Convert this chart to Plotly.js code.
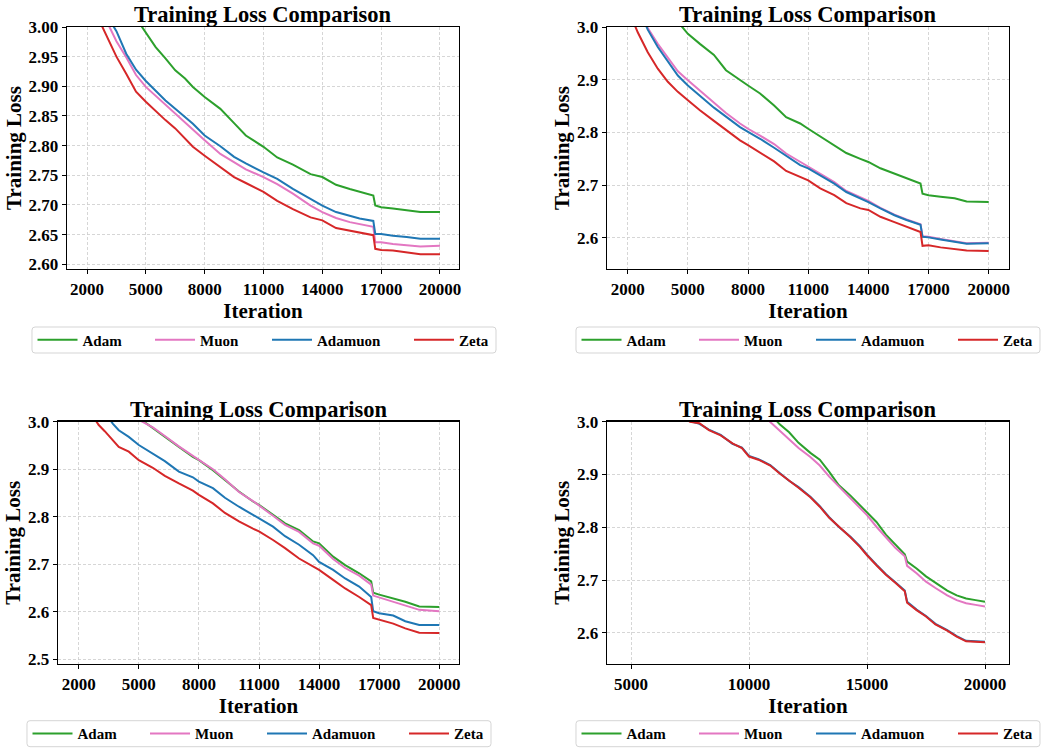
<!DOCTYPE html>
<html>
<head>
<meta charset="utf-8">
<script src="https://cdn.plot.ly/plotly-3.0.1.min.js"></script>
<style>
  html, body { margin: 0; padding: 0; background: #ffffff; }
  #chart { width: 1042px; height: 748px; }
</style>
</head>
<body>
<div id="chart"></div>
<script>
// ---------------- Data ----------------
const SERIES_NAMES = ["Adam", "Muon", "Adamuon", "Zeta"];
const SERIES_COLORS = ["#2ca02c", "#e377c2", "#1f77b4", "#d62728"];

// Panel 1 (top-left)
const P1_ITER = [2500, 3000, 3500, 4000, 4500, 5000, 5500, 6000, 6500, 7000, 7400, 8000, 8800, 9500, 10100, 11000, 11700, 12500, 13400, 14000, 14700, 15400, 15900, 16600, 16700, 17000, 17600, 18300, 19000, 20000];
const P1_ADAM    = [null, null, null, null, 3.015, 2.990, 2.966, 2.947, 2.927, 2.913, 2.899, 2.882, 2.862, 2.838, 2.817, 2.798, 2.780, 2.768, 2.752, 2.747, 2.734, 2.727, 2.722, 2.716, 2.699, 2.696, 2.694, 2.691, 2.688, 2.688];
const P1_MUON    = [null, 3.010, 2.976, 2.949, 2.919, 2.899, 2.884, 2.868, 2.853, 2.838, 2.826, 2.809, 2.786, 2.772, 2.760, 2.747, 2.735, 2.719, 2.699, 2.688, 2.678, 2.671, 2.668, 2.663, 2.637, 2.637, 2.634, 2.632, 2.630, 2.631];
const P1_ADAMUON = [null, 3.020, 2.993, 2.955, 2.928, 2.909, 2.892, 2.876, 2.862, 2.848, 2.837, 2.817, 2.799, 2.781, 2.770, 2.755, 2.744, 2.727, 2.710, 2.699, 2.688, 2.682, 2.677, 2.673, 2.651, 2.651, 2.648, 2.646, 2.643, 2.643];
const P1_ZETA    = [3.020, 2.985, 2.950, 2.921, 2.891, 2.874, 2.858, 2.843, 2.829, 2.812, 2.798, 2.783, 2.763, 2.747, 2.737, 2.722, 2.707, 2.693, 2.679, 2.674, 2.661, 2.657, 2.654, 2.649, 2.626, 2.624, 2.623, 2.620, 2.617, 2.617];

// Panel 2 (top-right)
const P2_ITER = [2000, 2500, 3000, 3500, 4000, 4500, 5000, 5600, 6300, 6900, 7600, 8000, 8600, 9300, 9900, 10600, 11000, 11600, 12300, 12900, 13600, 14000, 14600, 15300, 15900, 16600, 16700, 17000, 17600, 18300, 18900, 20000];
const P2_ADAM    = [null, null, null, null, null, 3.010, 2.987, 2.968, 2.947, 2.918, 2.899, 2.889, 2.874, 2.851, 2.829, 2.817, 2.807, 2.792, 2.776, 2.761, 2.750, 2.744, 2.732, 2.722, 2.713, 2.703, 2.684, 2.681, 2.678, 2.675, 2.669, 2.668];
const P2_MUON    = [null, 3.040, 2.998, 2.968, 2.941, 2.916, 2.899, 2.880, 2.857, 2.837, 2.817, 2.807, 2.794, 2.778, 2.760, 2.744, 2.735, 2.722, 2.706, 2.689, 2.677, 2.670, 2.657, 2.644, 2.635, 2.626, 2.603, 2.602, 2.598, 2.593, 2.590, 2.591];
const P2_ADAMUON = [null, 3.040, 2.995, 2.962, 2.934, 2.908, 2.889, 2.870, 2.847, 2.830, 2.810, 2.801, 2.788, 2.771, 2.755, 2.738, 2.732, 2.719, 2.703, 2.687, 2.675, 2.668, 2.656, 2.643, 2.634, 2.625, 2.602, 2.601, 2.597, 2.593, 2.589, 2.590];
const P2_ZETA    = [3.035, 2.990, 2.952, 2.921, 2.896, 2.877, 2.861, 2.842, 2.822, 2.805, 2.785, 2.776, 2.762, 2.745, 2.727, 2.716, 2.709, 2.694, 2.681, 2.666, 2.656, 2.653, 2.640, 2.630, 2.621, 2.611, 2.585, 2.586, 2.582, 2.579, 2.576, 2.575];

// Panel 3 (bottom-left)
const P3_ITER = [2500, 3000, 3300, 3700, 4000, 4500, 5000, 5700, 6300, 7000, 7700, 8000, 8700, 9300, 10000, 10700, 11000, 11700, 12300, 13000, 13700, 14000, 14700, 15300, 16000, 16600, 16700, 17000, 17700, 18300, 19000, 20000];
const P3_ADAM    = [null, null, null, null, null, null, 3.008, 2.986, 2.968, 2.947, 2.926, 2.919, 2.898, 2.877, 2.853, 2.832, 2.825, 2.804, 2.786, 2.772, 2.748, 2.744, 2.716, 2.698, 2.681, 2.664, 2.640, 2.636, 2.628, 2.621, 2.611, 2.610];
const P3_MUON    = [null, null, null, null, null, null, 3.004, 2.988, 2.970, 2.948, 2.928, 2.920, 2.900, 2.879, 2.852, 2.833, 2.824, 2.802, 2.783, 2.768, 2.744, 2.739, 2.711, 2.692, 2.676, 2.657, 2.634, 2.630, 2.621, 2.614, 2.604, 2.601];
const P3_ADAMUON = [null, null, 3.020, 2.996, 2.982, 2.968, 2.951, 2.933, 2.917, 2.895, 2.883, 2.874, 2.860, 2.840, 2.821, 2.804, 2.797, 2.779, 2.759, 2.741, 2.719, 2.705, 2.688, 2.670, 2.653, 2.631, 2.601, 2.597, 2.592, 2.580, 2.572, 2.572];
const P3_ZETA    = [3.025, 2.993, 2.980, 2.960, 2.947, 2.937, 2.919, 2.903, 2.886, 2.870, 2.855, 2.846, 2.828, 2.808, 2.790, 2.775, 2.769, 2.751, 2.734, 2.712, 2.695, 2.688, 2.667, 2.649, 2.631, 2.614, 2.587, 2.583, 2.575, 2.565, 2.556, 2.555];

// Panel 4 (bottom-right)
const P4_ITER = [7000, 7500, 7900, 8300, 8800, 9300, 9700, 10000, 10400, 10900, 11300, 11700, 12100, 12600, 13000, 13400, 13800, 14300, 14700, 15000, 15400, 15800, 16200, 16600, 16700, 17100, 17500, 17900, 18400, 18800, 19200, 19600, 20000];
const P4_ADAM    = [null, null, null, null, null, null, null, null, null, 3.015, 2.995, 2.980, 2.960, 2.941, 2.928, 2.905, 2.880, 2.860, 2.842, 2.829, 2.810, 2.786, 2.768, 2.749, 2.735, 2.722, 2.707, 2.695, 2.680, 2.671, 2.665, 2.662, 2.659];
const P4_MUON    = [null, null, null, null, null, null, null, null, 3.020, 2.999, 2.984, 2.966, 2.950, 2.933, 2.917, 2.896, 2.878, 2.854, 2.836, 2.823, 2.801, 2.780, 2.761, 2.745, 2.727, 2.713, 2.697, 2.685, 2.671, 2.662, 2.656, 2.653, 2.650];
const P4_ADAMUON = [3.016, 3.001, 2.996, 2.985, 2.975, 2.958, 2.951, 2.935, 2.929, 2.918, 2.903, 2.888, 2.876, 2.858, 2.840, 2.819, 2.801, 2.782, 2.764, 2.748, 2.729, 2.711, 2.696, 2.680, 2.659, 2.644, 2.632, 2.617, 2.605, 2.594, 2.585, 2.584, 2.583];
const P4_ZETA    = [3.015, 3.000, 2.997, 2.984, 2.974, 2.959, 2.950, 2.934, 2.928, 2.917, 2.902, 2.889, 2.875, 2.857, 2.839, 2.818, 2.802, 2.781, 2.763, 2.747, 2.728, 2.710, 2.695, 2.679, 2.657, 2.643, 2.631, 2.616, 2.604, 2.593, 2.584, 2.583, 2.582];

// Tick labels
const X_TICKS_A = [2000, 5000, 8000, 11000, 14000, 17000, 20000];
const X_TICKS_B = [5000, 10000, 15000, 20000];

const TITLE_TEXT = "Training Loss Comparison";
const X_TITLE = "Iteration";
const Y_TITLE = "Training Loss";

// ---------------- Layout helpers ----------------
const W = 1042, H = 748;
const FONT = '"Liberation Serif", "Times New Roman", serif';
const LEGEND_ENTRY_OFFSETS = [5.5, 123, 240, 382]; // px from legend frame's left edge

const panels = [
  { iter: P1_ITER, vals: [P1_ADAM, P1_MUON, P1_ADAMUON, P1_ZETA], px: [67, 459], py: [27, 269],
    xr: [980, 20970], yr: [2.592, 3.0], dtick: 0.05, fmt: ".2f", y0: 2.6, xt: X_TICKS_A,
    box: [32, 327, 496, 353], ttl: 14.5 },
  { iter: P2_ITER, vals: [P2_ADAM, P2_MUON, P2_ADAMUON, P2_ZETA], px: [607, 1009], py: [27, 269],
    xr: [968, 21012], yr: [2.541, 3.0], dtick: 0.1, fmt: ".1f", y0: 2.6, xt: X_TICKS_A,
    box: [576, 327, 1040, 353], ttl: 14.5 },
  { iter: P3_ITER, vals: [P3_ADAM, P3_MUON, P3_ADAMUON, P3_ZETA], px: [58, 459], py: [421.7, 664],
    xr: [967, 20983], yr: [2.490, 3.0], dtick: 0.1, fmt: ".1f", y0: 2.5, xt: X_TICKS_A,
    box: [27, 720.7, 491, 746.7], ttl: 409.5 },
  { iter: P4_ITER, vals: [P4_ADAM, P4_MUON, P4_ADAMUON, P4_ZETA], px: [607, 1009], py: [421.7, 664],
    xr: [3983, 21017], yr: [2.541, 3.0], dtick: 0.1, fmt: ".1f", y0: 2.6, xt: X_TICKS_B,
    box: [576, 720.7, 1040, 746.7], ttl: 409.5 }
];

function fx(px) { return px / W; }
function fy(py) { return 1 - py / H; }
function roundedRectPath(x0, y0, x1, y1, r) {
  const P = (x, y) => fx(x).toFixed(5) + "," + fy(y).toFixed(5);
  return "M" + P(x0 + r, y0) + " L" + P(x1 - r, y0) + " Q" + P(x1, y0) + " " + P(x1, y0 + r) +
         " L" + P(x1, y1 - r) + " Q" + P(x1, y1) + " " + P(x1 - r, y1) +
         " L" + P(x0 + r, y1) + " Q" + P(x0, y1) + " " + P(x0, y1 - r) +
         " L" + P(x0, y0 + r) + " Q" + P(x0, y0) + " " + P(x0 + r, y0) + " Z";
}

const traces = [];
const layout = {
  width: W, height: H,
  margin: { l: 0, r: 0, t: 0, b: 0, autoexpand: false },
  paper_bgcolor: "#ffffff",
  plot_bgcolor: "#ffffff",
  showlegend: true,
  font: { family: FONT, color: "#000000", weight: "bold" },
  annotations: [],
  shapes: []
};

panels.forEach((p, i) => {
  const k = i + 1;
  const xa = k === 1 ? "x" : "x" + k;
  const ya = k === 1 ? "y" : "y" + k;
  const xkey = k === 1 ? "xaxis" : "xaxis" + k;
  const ykey = k === 1 ? "yaxis" : "yaxis" + k;

  SERIES_NAMES.forEach((name, s) => {
    const li = i * 4 + s + 1;
    const legKey = li === 1 ? "legend" : "legend" + li;
    traces.push({
      type: "scatter", mode: "lines",
      x: p.iter, y: p.vals[s],
      name: name,
      showlegend: true,
      xaxis: xa, yaxis: ya,
      legend: legKey,
      line: { color: SERIES_COLORS[s], width: 2 },
      connectgaps: false,
      hoverinfo: "skip"
    });
    layout[legKey] = {
      visible: true,
      orientation: "h",
      x: fx(p.box[0] + LEGEND_ENTRY_OFFSETS[s] - 5), xanchor: "left",
      y: fy((p.box[1] + p.box[3]) / 2), yanchor: "middle",
      bgcolor: "rgba(0,0,0,0)", borderwidth: 0,
      font: { family: FONT, size: 15, color: "#000000", weight: "bold" },
      itemwidth: 40
    };
  });

  const common = {
    showline: true, mirror: true, linecolor: "#000000", linewidth: 1.3,
    ticks: "outside", ticklen: 4, tickwidth: 1, tickcolor: "#000000",
    showgrid: true, gridcolor: "#cccccc", gridwidth: 0.8, griddash: "3px,2px",
    zeroline: false, fixedrange: true, automargin: false,
    tickfont: { family: FONT, size: 17, color: "#000000", weight: "bold" }
  };

  layout[xkey] = Object.assign({}, common, {
    domain: [fx(p.px[0]), fx(p.px[1])],
    anchor: ya,
    range: p.xr,
    tickmode: "array", tickvals: p.xt, ticktext: p.xt.map(String),
    title: { text: X_TITLE, standoff: 0, font: { family: FONT, size: 21, color: "#000000", weight: "bold" } }
  });
  layout[ykey] = Object.assign({}, common, {
    domain: [fy(p.py[1]), fy(p.py[0])],
    anchor: xa,
    range: p.yr,
    tickmode: "linear", tick0: p.y0, dtick: p.dtick, tickformat: p.fmt,
    title: { text: Y_TITLE, standoff: 1, font: { family: FONT, size: 21, color: "#000000", weight: "bold" } }
  });

  // legend frame (matplotlib-style rounded box)
  layout.shapes.push({
    type: "path", xref: "paper", yref: "paper", layer: "below",
    path: roundedRectPath(p.box[0], p.box[1], p.box[2], p.box[3], 3),
    line: { color: "#d5d5d5", width: 1 }, fillcolor: "#ffffff"
  });

  // subplot title
  layout.annotations.push({
    xref: "paper", yref: "paper",
    x: fx((p.px[0] + p.px[1]) / 2), y: fy(p.ttl),
    xanchor: "center", yanchor: "middle",
    text: TITLE_TEXT, showarrow: false,
    font: { family: FONT, size: 22.5, color: "#000000", weight: "bold" }
  });
});

Plotly.newPlot("chart", traces, layout, { staticPlot: true, displayModeBar: false });
</script>
</body>
</html>
